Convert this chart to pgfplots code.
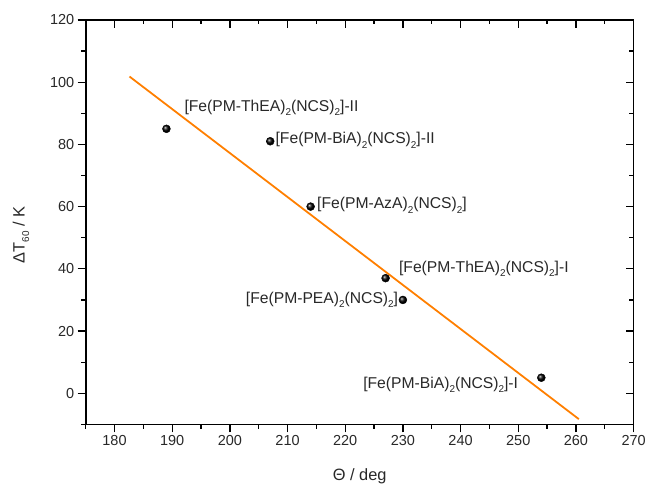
\documentclass[border=0pt]{standalone}
\usepackage{fontspec}
\setmainfont{Liberation Sans}
\usepackage{pgfplots}
\pgfplotsset{compat=1.18}
\usetikzlibrary{calc}
\definecolor{orangeline}{RGB}{255,127,0}
\definecolor{txt}{RGB}{40,40,40}
\newcommand{\sub}[1]{\raisebox{-0.5ex}{\fontsize{10}{11}\selectfont #1}}
\begin{document}
\begin{tikzpicture}
\pgfplotsset{
  common/.style={
    scale only axis, width=550bp, height=406bp,
    xmin=175, xmax=270, ymin=-10, ymax=120,
    xtick={180,190,...,270}, ytick={0,20,...,120},
    minor xtick={175,185,...,265}, minor ytick={-10,10,...,110},
    major tick length=8bp, minor tick length=4.5bp,
    tick style={line width=1.3pt, black},
  }
}
\begin{axis}[common,
  tick align=outside, xtick pos=left, ytick pos=left,
  axis line style={line width=1.7pt},
  ticklabel style={font=\fontsize{14.6}{17}\selectfont, text=txt},
  /pgf/number format/assume math mode=true,
  xlabel={Θ / deg},
  ylabel={ΔT\sub{60} / K},
  xlabel style={at={(axis description cs:0.5,-0.128)}, anchor=center, font=\fontsize{16.5}{19}\selectfont, text=txt},
  ylabel style={at={(axis description cs:-0.118,0.468)}, anchor=center, font=\fontsize{16.5}{19}\selectfont, text=txt},
  clip=false,
]
\addplot[orangeline, line width=1.8pt] coordinates {(182.6,101.8) (260.5,-8.3)};
\addplot[only marks, mark=ball, mark size=4bp, ball color=black] coordinates {
  (189,85) (207,81) (214,60) (227,37) (230,30) (254,5)
};
\begin{scope}[every node/.style={font=\fontsize{15.8}{18}\selectfont, text=txt, inner sep=0pt}]
\node[anchor=west] at (axis cs:192.1,91.8) {[Fe(PM-ThEA)\sub{2}(NCS)\sub{2}]-II};
\node[anchor=west] at (axis cs:207.9,81.3) {[Fe(PM-BiA)\sub{2}(NCS)\sub{2}]-II};
\node[anchor=west] at (axis cs:215.1,60.4) {[Fe(PM-AzA)\sub{2}(NCS)\sub{2}]};
\node[anchor=west] at (axis cs:229.3,40.1) {[Fe(PM-ThEA)\sub{2}(NCS)\sub{2}]-I};
\node[anchor=east] at (axis cs:229.2,30.0) {[Fe(PM-PEA)\sub{2}(NCS)\sub{2}]};
\node[anchor=east] at (axis cs:250.0,2.8) {[Fe(PM-BiA)\sub{2}(NCS)\sub{2}]-I};
\end{scope}
\end{axis}
\begin{axis}[common,
  tick align=inside, xtick pos=right, ytick pos=right,
  axis line style={draw=none},
  xticklabels={}, yticklabels={},
]
\end{axis}
\path ($(current axis.south west)+(-86bp,-60bp)$) rectangle ($(current axis.north east)+(13bp,20bp)$);
\end{tikzpicture}
\end{document}
